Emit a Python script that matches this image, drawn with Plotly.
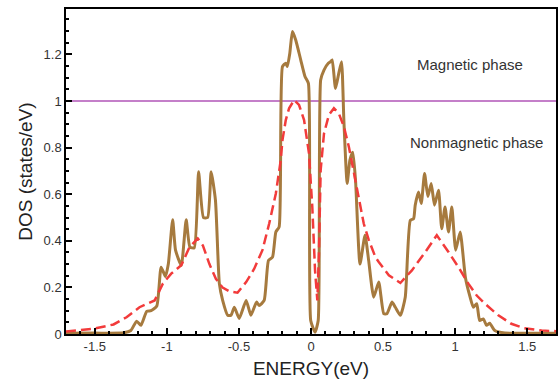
import plotly.graph_objects as go

# Magnetic phase DOS (solid brown)
mag_x = [-1.70, -1.50, -1.40, -1.30, -1.25, -1.21, -1.18, -1.14, -1.11, -1.07, -1.04, -1.01, -0.99,
         -0.96, -0.94, -0.90, -0.866, -0.84, -0.81, -0.78, -0.746, -0.717, -0.693, -0.663, -0.636,
         -0.613, -0.578, -0.555, -0.532, -0.498, -0.45, -0.417, -0.378, -0.36, -0.325, -0.295, -0.267,
         -0.244, -0.221, -0.198, -0.175, -0.164, -0.147, -0.129, -0.106, -0.071, -0.041, -0.018, -0.002,
         0.028, 0.05, 0.067, 0.09, 0.12, 0.136, 0.147, 0.17, 0.193, 0.212, 0.228, 0.251, 0.27, 0.29,
         0.309, 0.34, 0.375, 0.40, 0.435, 0.47, 0.505, 0.527, 0.562, 0.585, 0.62, 0.654, 0.689, 0.712,
         0.723, 0.746, 0.765, 0.788, 0.811, 0.834, 0.857, 0.885, 0.907, 0.93, 0.954, 0.977, 1.004,
         1.035, 1.072, 1.104, 1.126, 1.15, 1.17, 1.196, 1.218, 1.24, 1.275, 1.345, 1.50, 1.70]
mag_y = [0.003, 0.004, 0.003, 0.005, 0.015, 0.055, 0.037, 0.097, 0.10, 0.12, 0.287, 0.247, 0.30,
         0.49, 0.36, 0.295, 0.49, 0.373, 0.37, 0.696, 0.50, 0.50, 0.696, 0.574, 0.217,
         0.144, 0.08, 0.08, 0.115, 0.067, 0.144, 0.08, 0.137, 0.122, 0.144, 0.316, 0.33,
         0.438, 0.46, 1.148, 1.162, 1.148, 1.205, 1.298, 1.262, 1.176, 1.104, 1.076, 0.058,
         0.008, 0.058, 1.09, 1.133, 1.162, 1.169, 1.176, 1.054, 1.12, 1.169, 0.918, 0.646, 0.746, 0.78,
         0.66, 0.30, 0.424, 0.316, 0.158, 0.223, 0.087, 0.087, 0.137, 0.115, 0.08, 0.158, 0.488, 0.495,
         0.553, 0.61, 0.56, 0.689, 0.59, 0.646, 0.553, 0.617, 0.452, 0.545, 0.438, 0.545, 0.36,
         0.438, 0.24, 0.158, 0.115, 0.13, 0.058, 0.065, 0.037, 0.046, 0.015, 0.004, 0.003, 0.003]

# Nonmagnetic phase DOS (dashed red)
nm_x = [-1.70, -1.51, -1.37, -1.28, -1.19, -1.085, -1.028, -0.97, -0.90, -0.843, -0.786, -0.75,
        -0.705, -0.66, -0.613, -0.567, -0.51, -0.45, -0.394, -0.337, -0.29, -0.244, -0.21, -0.198,
        -0.175, -0.152, -0.117, -0.083, -0.048, -0.014, 0.009, 0.028, 0.044, 0.055, 0.067, 0.09,
        0.124, 0.159, 0.193, 0.228, 0.263, 0.297, 0.332, 0.366, 0.40, 0.447, 0.47, 0.54, 0.62, 0.70,
        0.793, 0.873, 0.954, 1.023, 1.092, 1.15, 1.207, 1.30, 1.39, 1.48, 1.60, 1.70]
nm_y = [0.011, 0.022, 0.041, 0.072, 0.115, 0.144, 0.216, 0.259, 0.295, 0.373, 0.41, 0.38,
        0.30, 0.237, 0.199, 0.183, 0.177, 0.223, 0.28, 0.36, 0.474, 0.603, 0.746, 0.832,
        0.918, 0.969, 1.004, 0.983, 0.918, 0.775, 0.545, 0.273, 0.144, 0.345, 0.703, 0.86,
        0.94, 0.969, 0.947, 0.89, 0.803, 0.689, 0.574, 0.474, 0.405, 0.33, 0.309, 0.252, 0.219, 0.273,
        0.352, 0.424, 0.352, 0.287, 0.216, 0.165, 0.13, 0.08, 0.044, 0.025, 0.015, 0.012]

ref_line_x = [-1.7, 1.7]
ref_line_y = [1.0, 1.0]

x_ticks = [-1.5, -1, -0.5, 0, 0.5, 1, 1.5]
x_tick_text = ["-1.5", "-1", "-0.5", "0", "0.5", "1", "1.5"]
y_ticks = [0, 0.2, 0.4, 0.6, 0.8, 1.0, 1.2]
y_tick_text = ["0", "0.2", "0.4", "0.6", "0.8", "1", "1.2"]

font = "Liberation Sans, Arial, sans-serif"

fig = go.Figure()
fig.add_trace(go.Scatter(x=ref_line_x, y=ref_line_y, mode="lines",
                         line=dict(color="#c47fc9", width=2), showlegend=False))
fig.add_trace(go.Scatter(x=mag_x, y=mag_y, mode="lines",
                         line=dict(color="#a67a3e", width=3, shape="spline", smoothing=0.5),
                         showlegend=False))
fig.add_trace(go.Scatter(x=nm_x, y=nm_y, mode="lines",
                         line=dict(color="#f23b3b", width=2.5, dash="10px,5px"),
                         showlegend=False))

fig.add_annotation(x=1.106, y=1.155, text="Magnetic phase", showarrow=False,
                   font=dict(family=font, size=15, color="#333333"))
fig.add_annotation(x=1.147, y=0.82, text="Nonmagnetic phase", showarrow=False,
                   font=dict(family=font, size=15, color="#333333"))
# y-axis title placed as rotated text
fig.add_annotation(xref="paper", yref="paper", x=-0.0833, y=0.5, text="DOS (states/eV)",
                   textangle=-90, showarrow=False, xanchor="center", yanchor="middle",
                   font=dict(family=font, size=19, color="#222222"))

fig.update_layout(
    width=559, height=383,
    margin=dict(l=66, r=1, t=9, b=49),
    paper_bgcolor="white", plot_bgcolor="white",
    font=dict(family=font, size=13, color="#333333"),
    xaxis=dict(range=[-1.7, 1.7], tickvals=x_ticks, ticktext=x_tick_text,
               ticks="inside", ticklen=6, tickwidth=1.5, tickcolor="black",
               showline=True, linecolor="black", linewidth=1.5, mirror=True,
               showgrid=False, zeroline=False,
               minor=dict(dtick=0.1, tick0=0, ticks="inside", ticklen=3, tickcolor="black", showgrid=False),
               title=dict(text="ENERGY(eV)", font=dict(size=19, family=font, color="#222222"), standoff=8),
               tickfont=dict(size=13)),
    yaxis=dict(range=[0, 1.395], tickvals=y_ticks, ticktext=y_tick_text,
               ticks="inside", ticklen=6, tickwidth=1.5, tickcolor="black",
               showline=True, linecolor="black", linewidth=1.5, mirror=True,
               showgrid=False, zeroline=False,
               minor=dict(dtick=0.05, tick0=0, ticks="inside", ticklen=3, tickcolor="black", showgrid=False),
               tickfont=dict(size=13)),
)

fig.write_html("out.html")
